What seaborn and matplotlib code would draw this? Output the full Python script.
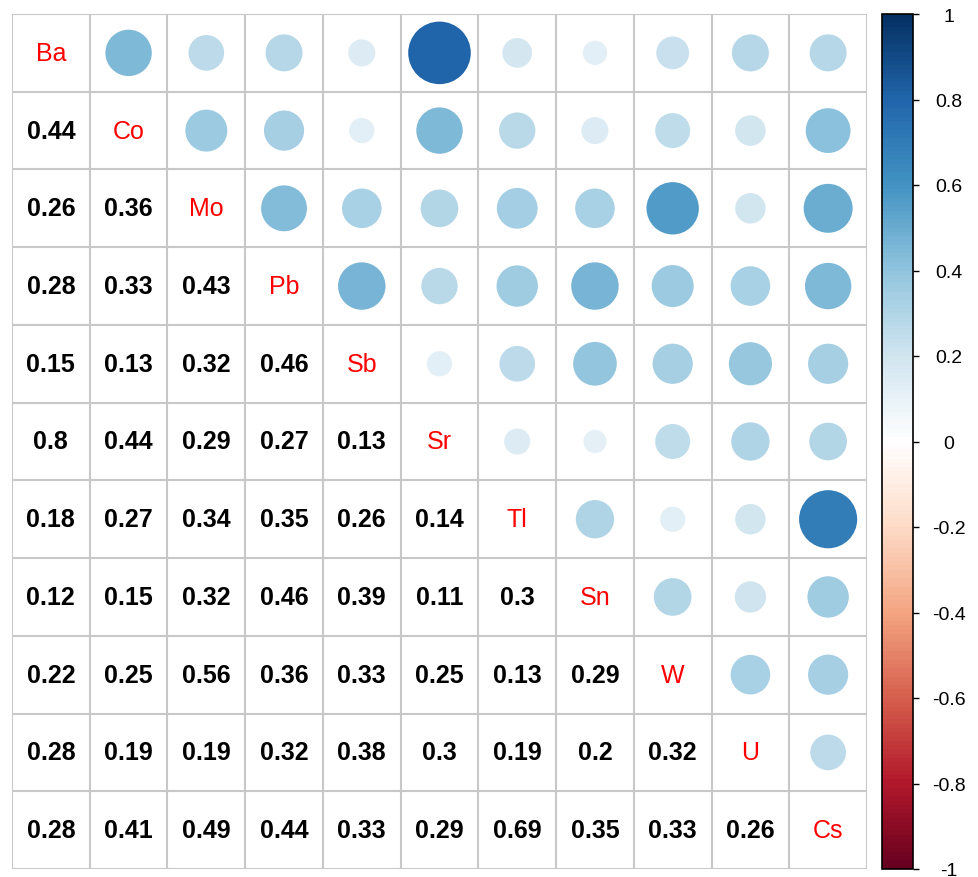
import numpy as np
import pandas as pd
import matplotlib
matplotlib.use("Agg")
import matplotlib.pyplot as plt
import seaborn as sns
from matplotlib.colors import LinearSegmentedColormap, Normalize
from matplotlib.cm import ScalarMappable

# ---- data ----
labels = ["Ba", "Co", "Mo", "Pb", "Sb", "Sr", "Tl", "Sn", "W", "U", "Cs"]
row_Co = [0.44]
row_Mo = [0.26, 0.36]
row_Pb = [0.28, 0.33, 0.43]
row_Sb = [0.15, 0.13, 0.32, 0.46]
row_Sr = [0.8, 0.44, 0.29, 0.27, 0.13]
row_Tl = [0.18, 0.27, 0.34, 0.35, 0.26, 0.14]
row_Sn = [0.12, 0.15, 0.32, 0.46, 0.39, 0.11, 0.3]
row_W = [0.22, 0.25, 0.56, 0.36, 0.33, 0.25, 0.13, 0.29]
row_U = [0.28, 0.19, 0.19, 0.32, 0.38, 0.3, 0.19, 0.2, 0.32]
row_Cs = [0.28, 0.41, 0.49, 0.44, 0.33, 0.29, 0.69, 0.35, 0.33, 0.26]
lower_rows = [[], row_Co, row_Mo, row_Pb, row_Sb, row_Sr, row_Tl, row_Sn, row_W, row_U, row_Cs]
cbar_ticks = [1, 0.8, 0.6, 0.4, 0.2, 0, -0.2, -0.4, -0.6, -0.8, -1]

n = len(labels)
M = np.eye(n)
for i, row in enumerate(lower_rows):
    for j, v in enumerate(row):
        M[i, j] = v
        M[j, i] = v

# upper triangle circles
recs = []
for i in range(n):
    for j in range(i + 1, n):
        recs.append({"x": j + 0.5, "y": i + 0.5, "r": M[i, j], "a": abs(M[i, j])})
df = pd.DataFrame(recs)

cmap = LinearSegmentedColormap.from_list(
    "corrRdBu",
    ["#67001F", "#B2182B", "#D6604D", "#F4A582", "#FDDBC7", "#FFFFFF",
     "#D1E5F0", "#92C5DE", "#4393C3", "#2166AC", "#053061"], N=200)

# ---- figure ----
W, H, DPI = 979, 878, 100
fig = plt.figure(figsize=(W / DPI, H / DPI), dpi=DPI)
x0, x1, ytop, ybot = 12, 867, 15, 870
ax = fig.add_axes([x0 / W, (H - ybot) / H, (x1 - x0) / W, (ybot - ytop) / H])

cell_px = (x1 - x0) / n
cell_pt = cell_px * 72 / DPI
smax = (0.9 * cell_pt) ** 2

sns.scatterplot(data=df, x="x", y="y", hue="r", palette=cmap, hue_norm=(-1, 1),
                size="a", sizes=(0, smax), size_norm=(0, 1), legend=False,
                linewidth=0, ax=ax, zorder=3)

ax.set_xlim(0, n)
ax.set_ylim(n, 0)
ax.set_xticks([])
ax.set_yticks([])
ax.set_xlabel("")
ax.set_ylabel("")
for k in range(n + 1):
    ax.axhline(k, color="#C8C8C8", lw=1.5, zorder=1)
    ax.axvline(k, color="#C8C8C8", lw=1.5, zorder=1)
for s in ax.spines.values():
    s.set_visible(False)

# diagonal labels
for i, lab in enumerate(labels):
    ax.text(i + 0.5, i + 0.5, lab, color="red", ha="center", va="center",
            fontsize=18, family="Liberation Sans")

# lower numbers
for i, row in enumerate(lower_rows):
    for j, v in enumerate(row):
        ax.text(j + 0.5, i + 0.5, f"{v:g}", color="black", ha="center", va="center",
                fontsize=18, fontweight="bold", family="Liberation Sans")

# ---- colorbar ----
cx0, cx1 = 882, 913
cax = fig.add_axes([cx0 / W, (H - ybot) / H, (cx1 - cx0) / W, (ybot - ytop) / H])
sm = ScalarMappable(norm=Normalize(-1, 1), cmap=cmap)
cb = fig.colorbar(sm, cax=cax, ticks=cbar_ticks)
cb.outline.set_edgecolor("black")
cb.outline.set_linewidth(1.2)
cb.ax.set_yticklabels([f"{t:g}" for t in cbar_ticks], family="Liberation Sans", fontsize=14)
cb.ax.tick_params(axis="y", length=4, width=1, direction="out", pad=22)
for t in cb.ax.get_yticklabels():
    t.set_horizontalalignment("center")

fig.savefig("out.png", dpi=DPI)
